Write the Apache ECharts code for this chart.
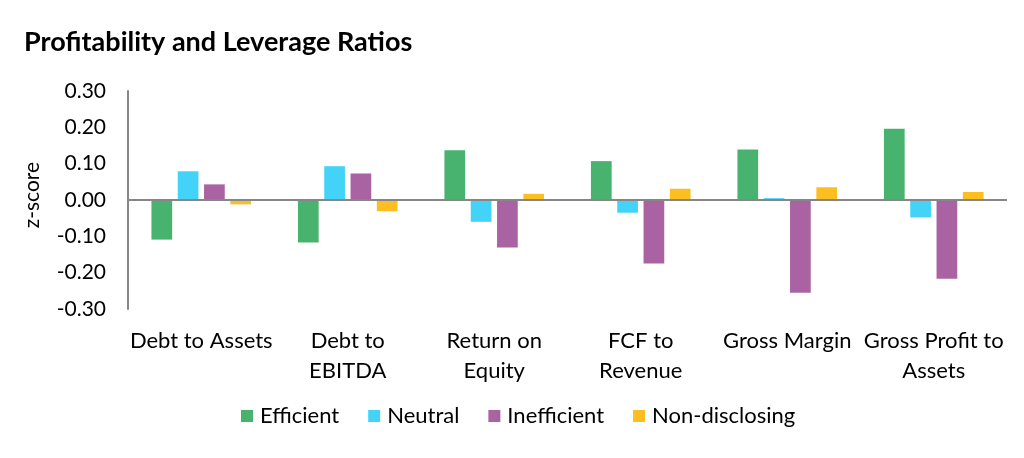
<!DOCTYPE html>
<html><head><meta charset="utf-8">
<script src="https://cdn.jsdelivr.net/npm/echarts@6/dist/echarts.min.js"></script>
<style>html,body{margin:0;padding:0;background:#fff}#c{width:1024px;height:458px}</style>
</head><body><div id="c"></div>
<script>
const categories = ['Debt to Assets', 'Debt to\nEBITDA', 'Return on\nEquity', 'FCF to\nRevenue', 'Gross Margin', 'Gross Profit to\nAssets'];
const efficient = [-0.109, -0.117, 0.137, 0.107, 0.139, 0.196];
const neutral = [0.079, 0.093, -0.060, -0.035, 0.005, -0.048];
const inefficient = [0.043, 0.073, -0.131, -0.175, -0.255, -0.217];
const nonDisclosing = [-0.012, -0.031, 0.017, 0.031, 0.035, 0.022];
const seriesNames = ['Efficient', 'Neutral', 'Inefficient', 'Non-disclosing'];
const colors = ['#48B36F', '#43D3F9', '#A963A3', '#FBBF22'];
const FONT = 'Lato';

const chart = echarts.init(document.getElementById('c'));
const dataSets = [efficient, neutral, inefficient, nonDisclosing];
const series = dataSets.map((d, i) => ({
  name: seriesNames[i], type: 'bar', data: d,
  barGap: '27%', barCategoryGap: '32%',
  itemStyle: { color: colors[i] },
  markLine: i === 0 ? { silent: true, symbol: ['none', 'none'], label: { show: false },
    lineStyle: { color: '#868686', width: 2, type: 'solid' }, data: [{ yAxis: 0 }] } : undefined
}));
chart.setOption({
  animation: false,
  color: colors,
  title: { text: 'Profitability and Leverage Ratios', left: 19, top: 24,
    textStyle: { fontFamily: FONT, fontWeight: 'bold', fontSize: 27, color: '#000' } },
  legend: { data: seriesNames, bottom: 26, left: 236, itemWidth: 12, itemHeight: 12, itemGap: 29,
    icon: 'rect', textStyle: { fontFamily: FONT, fontSize: 22, color: '#000', padding: [0, 0, 0, 2] } },
  grid: { left: 128, right: 17, top: 91, bottom: 149 },
  xAxis: { type: 'category', data: categories,
    axisLine: { show: false, onZero: false }, axisTick: { show: false },
    axisLabel: { fontFamily: FONT, fontSize: 22, color: '#000', margin: 17, lineHeight: 30, interval: 0 } },
  yAxis: { type: 'value', min: -0.3, max: 0.3, interval: 0.1,
    name: 'z-score', nameLocation: 'middle', nameGap: 85, nameRotate: 90,
    nameTextStyle: { fontFamily: FONT, fontSize: 21, color: '#000', padding: [0, 0, 0, 10] },
    axisLine: { show: true, lineStyle: { color: '#868686', width: 2 } },
    axisTick: { show: false }, splitLine: { show: false },
    axisLabel: { fontFamily: FONT, fontSize: 21, color: '#000', margin: 22,
      formatter: v => v.toFixed(2) } },
  series
});
</script></body></html>
